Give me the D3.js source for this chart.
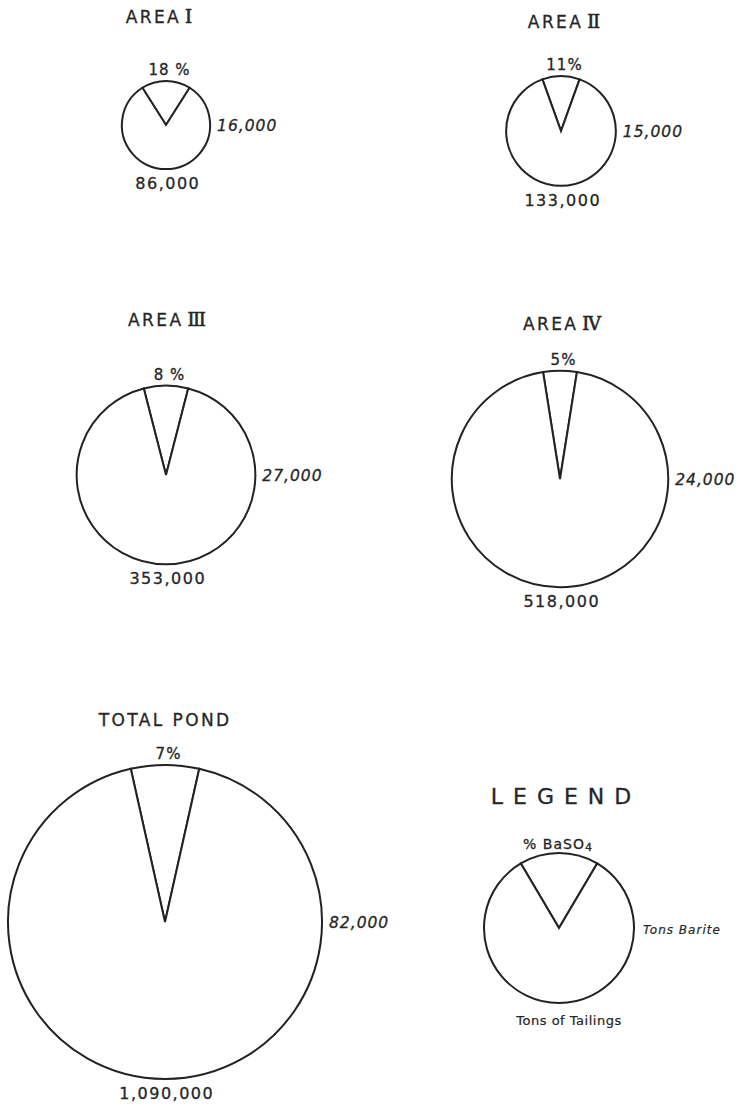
<!DOCTYPE html>
<html>
<head>
<meta charset="utf-8">
<script src="https://cdn.jsdelivr.net/npm/d3@7/dist/d3.min.js"></script>
<style>
  html, body { margin: 0; padding: 0; background: #ffffff; }
  svg { display: block; }
  text { font-family: "DejaVu Sans", sans-serif; fill: #262626; stroke: #262626; stroke-width: 0.3px; }
</style>
</head>
<body>
<svg id="chart" width="745" height="1110"></svg>
<script>
// Barite in tailings pond, by area
const areaNames    = ["AREA", "AREA", "AREA", "AREA", "TOTAL POND"];
const areaNumerals = ["I", "II", "III", "IV", ""];
const pctBaSO4     = [18, 11, 8, 5, 7];
const pctSpacer    = [" ", "", " ", "", ""];
const tonsBarite   = [16000, 15000, 27000, 24000, 82000];
const tonsTailings = [86000, 133000, 353000, 518000, 1090000];

// Legend entries
const legendTitle   = "LEGEND";
const legendPct     = 17;
const legendTop     = "% BaSO";
const legendTopSub  = "4";
const legendRight   = "Tons Barite";
const legendBottom  = "Tons of Tailings";

// Page layout: pie centres and title anchors
const centers   = [[166, 125], [561, 131], [166, 475], [560, 479], [165, 922]];
const titlePos  = [[157, 23], [562, 28], [165, 326], [560, 330], [164, 726]];
const legendCenter = [559, 928];
const legendRadius = 75;
const legendTitlePos = [561, 804];

const svg = d3.select("#chart");
const ink = "#222";

// circle area proportional to tons of tailings
const rScale = d3.scaleSqrt().domain([0, d3.max(tonsTailings)]).range([0, 157]);

const pie = d3.pie().sort(null).value(d => d);
const fmt = d3.format(",");

function drawPie(g, pct, r) {
  const half = pct / 100 * Math.PI;
  const arcs = pie.startAngle(-half).endAngle(2 * Math.PI - half)([pct, 100 - pct]);
  const arc = d3.arc().innerRadius(0).outerRadius(r);
  g.selectAll("path.slice")
    .data(arcs)
    .join("path")
    .attr("class", "slice")
    .attr("d", arc)
    .attr("fill", "#fff")
    .attr("stroke", ink)
    .attr("stroke-width", 2)
    .attr("stroke-linejoin", "miter");
}

tonsTailings.forEach((tt, i) => {
  const [cx, cy] = centers[i];
  const r = rScale(tt);
  const g = svg.append("g").attr("transform", `translate(${cx},${cy})`);
  drawPie(g, pctBaSO4[i], r);

  // title
  const t = svg.append("text")
    .attr("x", titlePos[i][0])
    .attr("y", titlePos[i][1])
    .attr("text-anchor", "middle")
    .attr("font-size", 17)
    .attr("letter-spacing", 2.4)
    .attr("dx", 1.2);
  t.append("tspan").text(areaNames[i]);
  if (areaNumerals[i]) {
    t.append("tspan")
      .attr("font-family", "DejaVu Serif, serif")
      .attr("font-size", 18)
      .attr("letter-spacing", -1.5)
      .attr("dx", 4)
      .style("stroke-width", "0.6px")
      .text(areaNumerals[i]);
  }

  // % BaSO4 above the wedge
  g.append("text")
    .attr("x", 3 + 0.5)
    .attr("y", -r - 6)
    .attr("text-anchor", "middle")
    .attr("font-size", 15)
    .attr("letter-spacing", 1)
    .text(pctBaSO4[i] + pctSpacer[i] + "%");

  // tons barite, right side
  g.append("text")
    .attr("x", r + 7)
    .attr("y", 6)
    .attr("font-size", 15.5)
    .attr("font-style", "italic")
    .attr("letter-spacing", 1)
    .text(fmt(tonsBarite[i]));

  // tons of tailings, below
  g.append("text")
    .attr("x", 1 + 0.75)
    .attr("y", r + 20)
    .attr("text-anchor", "middle")
    .attr("font-size", 16)
    .attr("letter-spacing", 1.5)
    .text(fmt(tt));
});

// Legend
svg.append("text")
  .attr("x", legendTitlePos[0] + 5)
  .attr("y", legendTitlePos[1])
  .attr("text-anchor", "middle")
  .attr("font-size", 22)
  .attr("letter-spacing", 10)
  .text(legendTitle);

const lg = svg.append("g").attr("transform", `translate(${legendCenter[0]},${legendCenter[1]})`);
drawPie(lg, legendPct, legendRadius);

const lt = lg.append("text")
  .attr("x", -1)
  .attr("y", -legendRadius - 4)
  .attr("text-anchor", "middle")
  .attr("font-size", 14)
  .attr("letter-spacing", 1);
lt.append("tspan").text(legendTop);
lt.append("tspan").attr("font-size", 11).attr("dy", 2).text(legendTopSub);

lg.append("text")
  .attr("x", legendRadius + 9)
  .attr("y", 6)
  .attr("font-size", 12)
  .attr("font-style", "italic")
  .attr("letter-spacing", 1)
  .style("stroke-width", "0.2px")
  .text(legendRight);

lg.append("text")
  .attr("x", 10)
  .attr("y", legendRadius + 22)
  .attr("text-anchor", "middle")
  .attr("font-size", 13)
  .attr("letter-spacing", 0.5)
  .style("stroke-width", "0.2px")
  .text(legendBottom);
</script>
</body>
</html>
